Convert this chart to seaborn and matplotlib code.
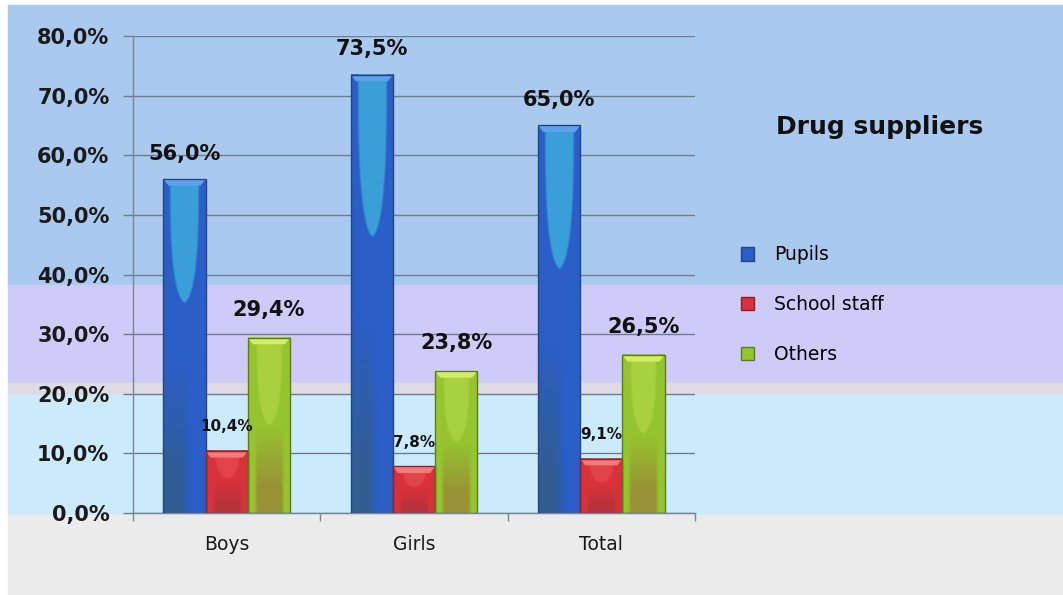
import numpy as np
import pandas as pd
import matplotlib
matplotlib.use("Agg")
import matplotlib.pyplot as plt
from matplotlib.patches import Rectangle, Polygon, Patch
from matplotlib.colors import to_rgb
import seaborn as sns

categories = ["Boys", "Girls", "Total"]
series = ["Pupils", "School staff", "Others"]
pupils = [56.0, 73.5, 65.0]
staff = [10.4, 7.8, 9.1]
others = [29.4, 23.8, 26.5]
y_ticks = [0, 10, 20, 30, 40, 50, 60, 70, 80]

df = pd.DataFrame({
    "group": categories * 3,
    "supplier": [series[0]] * 3 + [series[1]] * 3 + [series[2]] * 3,
    "share": pupils + staff + others,
})

# per-series shading: base, highlight, lower tone, bevel, edge
styles = {
    "Pupils": dict(base="#2b5ec6", light="#3a9fd8", low="#315d93", bevel="#5fa0ec", edge="#24467e",
                   hl_len=0.37, hl_half=0.36),
    "School staff": dict(base="#d8323b", light="#e2444a", low="#b8323a", bevel="#f27b7b", edge="#8e2228",
                         hl_len=0.45, hl_half=0.30),
    "Others": dict(base="#95c52e", light="#a9d040", low="#9a9236", bevel="#d5ee6a", edge="#5f7a1e",
                   hl_len=0.5, hl_half=0.32),
}

W, H = 1063, 595
fig = plt.figure(figsize=(W / 100, H / 100), dpi=100, facecolor="white")

def band(y0, y1, color, x0=8, x1=1063):
    fig.patches.append(Rectangle((x0 / W, 1 - y1 / H), (x1 - x0) / W, (y1 - y0) / H,
                                 transform=fig.transFigure, color=color, zorder=-10))

band(5, 285, "#a9caee")
band(285, 383, "#cecbf8")
band(383, 395, "#dedbe4")
band(395, 515, "#cbeafc")
band(515, 595, "#ebebeb")

ax = fig.add_axes([133 / W, 1 - 513 / H, (695 - 133) / W, (513 - 36) / H])
ax.set_facecolor("none")

sns.barplot(data=df, x="group", y="share", hue="supplier", order=categories,
            hue_order=series, palette=[styles[s]["base"] for s in series],
            width=0.675, ax=ax, legend=False, saturation=1, edgecolor="none")

ax.set_xlim(-0.5, 2.5)
ax.set_ylim(0, 80)

# shaded fill, top bevel and outline for every bar
for container, name in zip(ax.containers, series):
    st = styles[name]
    base = np.array(to_rgb(st["base"]))
    light = np.array(to_rgb(st["light"]))
    low = np.array(to_rgb(st["low"]))
    for bar in container:
        x, y0 = bar.get_x(), bar.get_y()
        w, h = bar.get_width(), bar.get_height()
        ny, nx = 300, 80
        v = np.linspace(0, 1, ny)[:, None]   # 0 at top, 1 at bottom
        u = np.linspace(0, 1, nx)[None, :]
        half = st["hl_half"] * np.sqrt(np.clip(1 - (v / st["hl_len"]) ** 3, 0, 1))
        hl = np.clip((half - np.abs(u - 0.5)) / 0.05, 0, 1)
        img = base[None, None, :] * (1 - hl[..., None]) + light[None, None, :] * hl[..., None]
        lowmask = np.clip((v - 0.5) / 0.35, 0, 1) * np.clip((0.36 - np.abs(u - 0.5)) / 0.08, 0, 1)
        if name == "Pupils":
            lowmask = np.clip((v - 0.55) / 0.35, 0, 1) * np.clip((0.62 - u) / 0.2, 0, 1)
        img = img * (1 - lowmask[..., None]) + low[None, None, :] * lowmask[..., None]
        ax.imshow(img, extent=[x, x + w, y0, y0 + h], aspect="auto", zorder=2.4,
                  interpolation="bilinear")
        bh = min(1.1, h * 0.3)
        ins = w * 0.12
        top = y0 + h
        ax.add_patch(Polygon([[x, top], [x + w, top], [x + w - ins, top - bh], [x + ins, top - bh]],
                             closed=True, facecolor=st["bevel"], edgecolor="none", zorder=2.5))
        ax.add_patch(Rectangle((x, y0), w, h, facecolor="none", edgecolor=st["edge"],
                               linewidth=1.0, zorder=2.6))

ax.set_xlim(-0.5, 2.5)
ax.set_ylim(0, 80)

# value labels
fmt = lambda v: f"{v:.1f}%".replace(".", ",")
for container, name in zip(ax.containers, series):
    vals = [b.get_height() for b in container]
    if name == "School staff":
        ax.bar_label(container, labels=[fmt(v) for v in vals], padding=12,
                     fontsize=11, fontweight="bold", color="#111111", zorder=3)
    else:
        ax.bar_label(container, labels=[fmt(v) for v in vals], padding=11 if name == "Pupils" else 13,
                     fontsize=15, fontweight="bold", color="#111111", zorder=3)

# axes, grid and ticks
ax.set_yticks(y_ticks)
ax.set_yticklabels([f"{t:.1f}%".replace(".", ",") for t in y_ticks])
ax.yaxis.grid(True, color="#6e7d8e", linewidth=1.0)
ax.set_axisbelow(True)
for s in ["top", "right"]:
    ax.spines[s].set_visible(False)
for s in ["left", "bottom"]:
    ax.spines[s].set_color("#7a8696")
    ax.spines[s].set_linewidth(1.0)
ax.tick_params(axis="y", length=7, width=1, color="#6e7d8e", pad=10, labelsize=15)
for lab in ax.get_yticklabels():
    lab.set_fontweight("bold")
    lab.set_color("#1a1a1a")
ax.set_xticks([0, 1, 2])
ax.set_xticklabels(categories, fontsize=13.5, color="#1a1a1a")
ax.set_xticks([-0.5, 0.5, 1.5, 2.5], minor=True)
ax.tick_params(axis="x", which="major", length=0, pad=16)
ax.tick_params(axis="x", which="minor", length=6, width=1, color="#7a8696")
ax.set_xlabel("")
ax.set_ylabel("")

# title and legend on the right
fig.text(880 / W, 1 - 127 / H, "Drug suppliers", fontsize=18, fontweight="bold",
         ha="center", va="center", color="#111111")
handles = [Patch(facecolor=styles[s]["base"], edgecolor=styles[s]["edge"]) for s in series]
fig.legend(handles, series, loc="upper left", bbox_to_anchor=(733 / W, 1 - 238 / H),
           frameon=False, fontsize=13.5, handlelength=0.7, handleheight=0.7,
           handletextpad=1.1, labelspacing=1.63, borderaxespad=0)

fig.savefig("out.png", dpi=100, facecolor="white")
